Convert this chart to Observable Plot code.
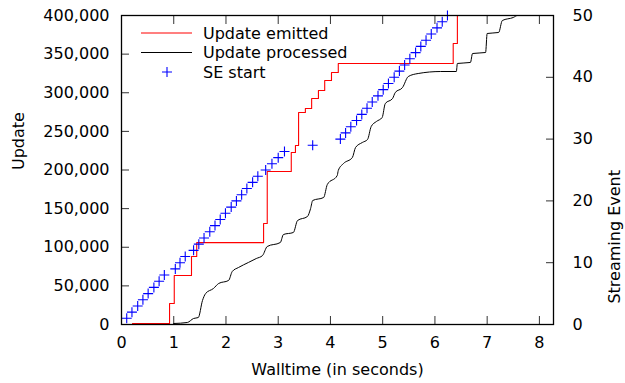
<!DOCTYPE html>
<html>
<head>
<meta charset="utf-8">
<script src="https://cdn.jsdelivr.net/npm/d3@7"></script>
<script src="https://cdn.jsdelivr.net/npm/@observablehq/plot@0.6"></script>
<style>
  html, body { margin: 0; padding: 0; background: white; }
</style>
</head>
<body>
<div id="chart"></div>
<script>
// ---- Data ----
const xTicks = [0, 1, 2, 3, 4, 5, 6, 7, 8];
const yTicks = [0, 50000, 100000, 150000, 200000, 250000, 300000, 350000, 400000];
const seTicks = [0, 10, 20, 30, 40, 50];
const seScale = 8000; // 50 streaming events <-> 400,000 updates

// Update emitted (step function: value holds from time until next time)
const emittedTime  = [0.21, 0.92, 1.01, 1.34, 1.44, 2.72, 2.79, 3.25, 3.33, 3.39, 3.52, 3.64, 3.77, 3.89, 4.02, 4.15, 6.35, 6.43];
const emittedValue = [1300, 27200, 63400, 88000, 106000, 130700, 198000, 222700, 231700, 274400, 279600, 292600, 302900, 315900, 326200, 337900, 363750, 400000];

// Update processed
const processedTime  = [1.00, 1.26, 1.38, 1.47, 1.55, 1.61, 1.76, 1.86, 2.05, 2.12, 2.24, 2.43, 2.58, 2.70, 2.79, 3.04, 3.10, 3.29, 3.37, 3.56, 3.62, 3.66, 3.87, 3.94, 4.13, 4.15, 4.25, 4.42, 4.48, 4.61, 4.71, 4.78, 4.88, 4.99, 5.05, 5.19, 5.24, 5.38, 5.49, 5.68, 6.11, 6.41, 6.43, 6.68, 6.72, 6.97, 7.00, 7.22, 7.29, 7.50, 7.58, 8.27];
const processedValue = [1300, 2600, 7800, 9000, 31000, 40100, 46600, 53100, 57000, 68600, 73800, 80300, 85400, 89300, 101000, 106100, 116500, 119100, 134600, 139800, 150200, 160500, 164400, 181200, 192900, 199400, 208400, 216200, 229100, 235600, 239500, 256300, 262800, 268000, 286100, 292600, 300300, 306800, 321000, 324900, 327500, 327500, 337900, 339200, 350800, 352100, 376700, 378000, 393500, 397400, 400000, 400000];

// SE start (streaming event index vs time)
const seTime  = [0.10, 0.20, 0.31, 0.41, 0.51, 0.62, 0.72, 0.82,
                 1.03, 1.12, 1.22,
                 1.38, 1.48, 1.58, 1.69, 1.79, 1.89, 1.99, 2.10, 2.20, 2.30, 2.40, 2.51, 2.61,
                 2.76, 2.88, 3.00, 3.12,
                 3.66,
                 4.19, 4.29, 4.39, 4.50, 4.60, 4.70, 4.80, 4.91, 5.01, 5.11, 5.22, 5.32, 5.42, 5.52, 5.63, 5.73, 5.83, 5.93, 6.04, 6.14, 6.24];
const seIndex = [1, 2, 3, 4, 5, 6, 7, 8,
                 9, 10, 11,
                 12, 13, 14, 15, 16, 17, 18, 19, 20, 21, 22, 23, 24,
                 25, 26, 27, 28,
                 29,
                 30, 31, 32, 33, 34, 35, 36, 37, 38, 39, 40, 41, 42, 43, 44, 45, 46, 47, 48, 49, 50];

// ---- Tables built from arrays ----
const emitted = emittedTime.map((t, i) => ({t, v: emittedValue[i]}));
const processed = processedTime.map((t, i) => ({t, v: processedValue[i]}));
const seStart = seTime.map((t, i) => ({t, se: seIndex[i]}));

const plusSym = {
  draw(ctx, size) {
    const r = Math.sqrt(size / Math.PI);
    ctx.moveTo(-r, 0); ctx.lineTo(r, 0);
    ctx.moveTo(0, -r); ctx.lineTo(0, r);
  }
};

const tickColor = "#333";
const blank = () => "";

const chart = Plot.plot({
  width: 625,
  height: 383,
  marginLeft: 121,
  marginRight: 72,
  marginTop: 15,
  marginBottom: 59,
  style: {fontFamily: "'DejaVu Sans', sans-serif", fontSize: "16px", background: "white", color: "black"},
  x: {domain: [0, 8.27]},
  y: {domain: [0, 400000]},
  marks: [
    // inward ticks
    Plot.axisX({ticks: xTicks, anchor: "bottom", tickSize: -8, tickFormat: blank, stroke: tickColor, label: null}),
    Plot.axisX({ticks: xTicks, anchor: "top", tickSize: -8, tickFormat: blank, stroke: tickColor, label: null}),
    Plot.axisY({ticks: yTicks, anchor: "left", tickSize: -8, tickFormat: blank, stroke: tickColor, label: null}),
    Plot.axisY({ticks: seTicks.map(d => d * seScale), anchor: "right", tickSize: -8, tickFormat: blank, stroke: tickColor, label: null}),
    // tick labels
    Plot.axisX({ticks: xTicks, anchor: "bottom", tickSize: 0, tickPadding: 12, label: null}),
    Plot.axisY({ticks: yTicks, anchor: "left", tickSize: 0, tickPadding: 12, tickFormat: d3.format(","), label: null}),
    Plot.axisY({ticks: seTicks.map(d => d * seScale), anchor: "right", tickSize: 0, tickPadding: 19, tickFormat: d => d / seScale, label: null}),
    // data
    Plot.line(emitted, {x: "t", y: "v", curve: "step-after", stroke: "#ff0000", strokeWidth: 1.1}),
    Plot.line(processed, {x: "t", y: "v", curve: "monotone-x", stroke: "#000000", strokeWidth: 1}),
    Plot.dot(seStart, {x: "t", y: d => d.se * seScale, symbol: plusSym, r: 5, stroke: "#0000ff", fill: "none", strokeWidth: 1.1}),
    Plot.frame({stroke: "black", strokeWidth: 1.3}),
    // axis titles
    Plot.text(["Update"], {frameAnchor: "left", dx: -103, rotate: -90, fill: "black"}),
    Plot.text(["Streaming Event"], {frameAnchor: "right", dx: 61, rotate: -90, fill: "black"}),
    Plot.text(["Walltime (in seconds)"], {frameAnchor: "bottom", dy: 50, fill: "black"})
  ]
});

document.getElementById("chart").append(chart);

// ---- Legend ----
const svg = d3.select(chart);
const legend = svg.append("g")
  .attr("font-family", "'DejaVu Sans', sans-serif")
  .attr("font-size", 16)
  .attr("text-anchor", "start");
const items = [
  {label: "Update emitted", color: "#ff0000", kind: "line"},
  {label: "Update processed", color: "#000000", kind: "line"},
  {label: "SE start", color: "#0000ff", kind: "plus"}
];
items.forEach((it, i) => {
  const y = 33 + i * 19.5;
  if (it.kind === "line") {
    legend.append("line").attr("x1", 141).attr("x2", 192).attr("y1", y).attr("y2", y)
      .attr("stroke", it.color).attr("stroke-width", 1.1);
  } else {
    legend.append("path").attr("d", `M162,${y}H172M167,${y - 5}V${y + 5}`)
      .attr("stroke", it.color).attr("stroke-width", 1.1).attr("fill", "none");
  }
  legend.append("text").attr("x", 203).attr("y", y).attr("dy", "0.35em")
    .attr("text-anchor", "start").attr("fill", "black").text(it.label);
});
</script>
</body>
</html>
